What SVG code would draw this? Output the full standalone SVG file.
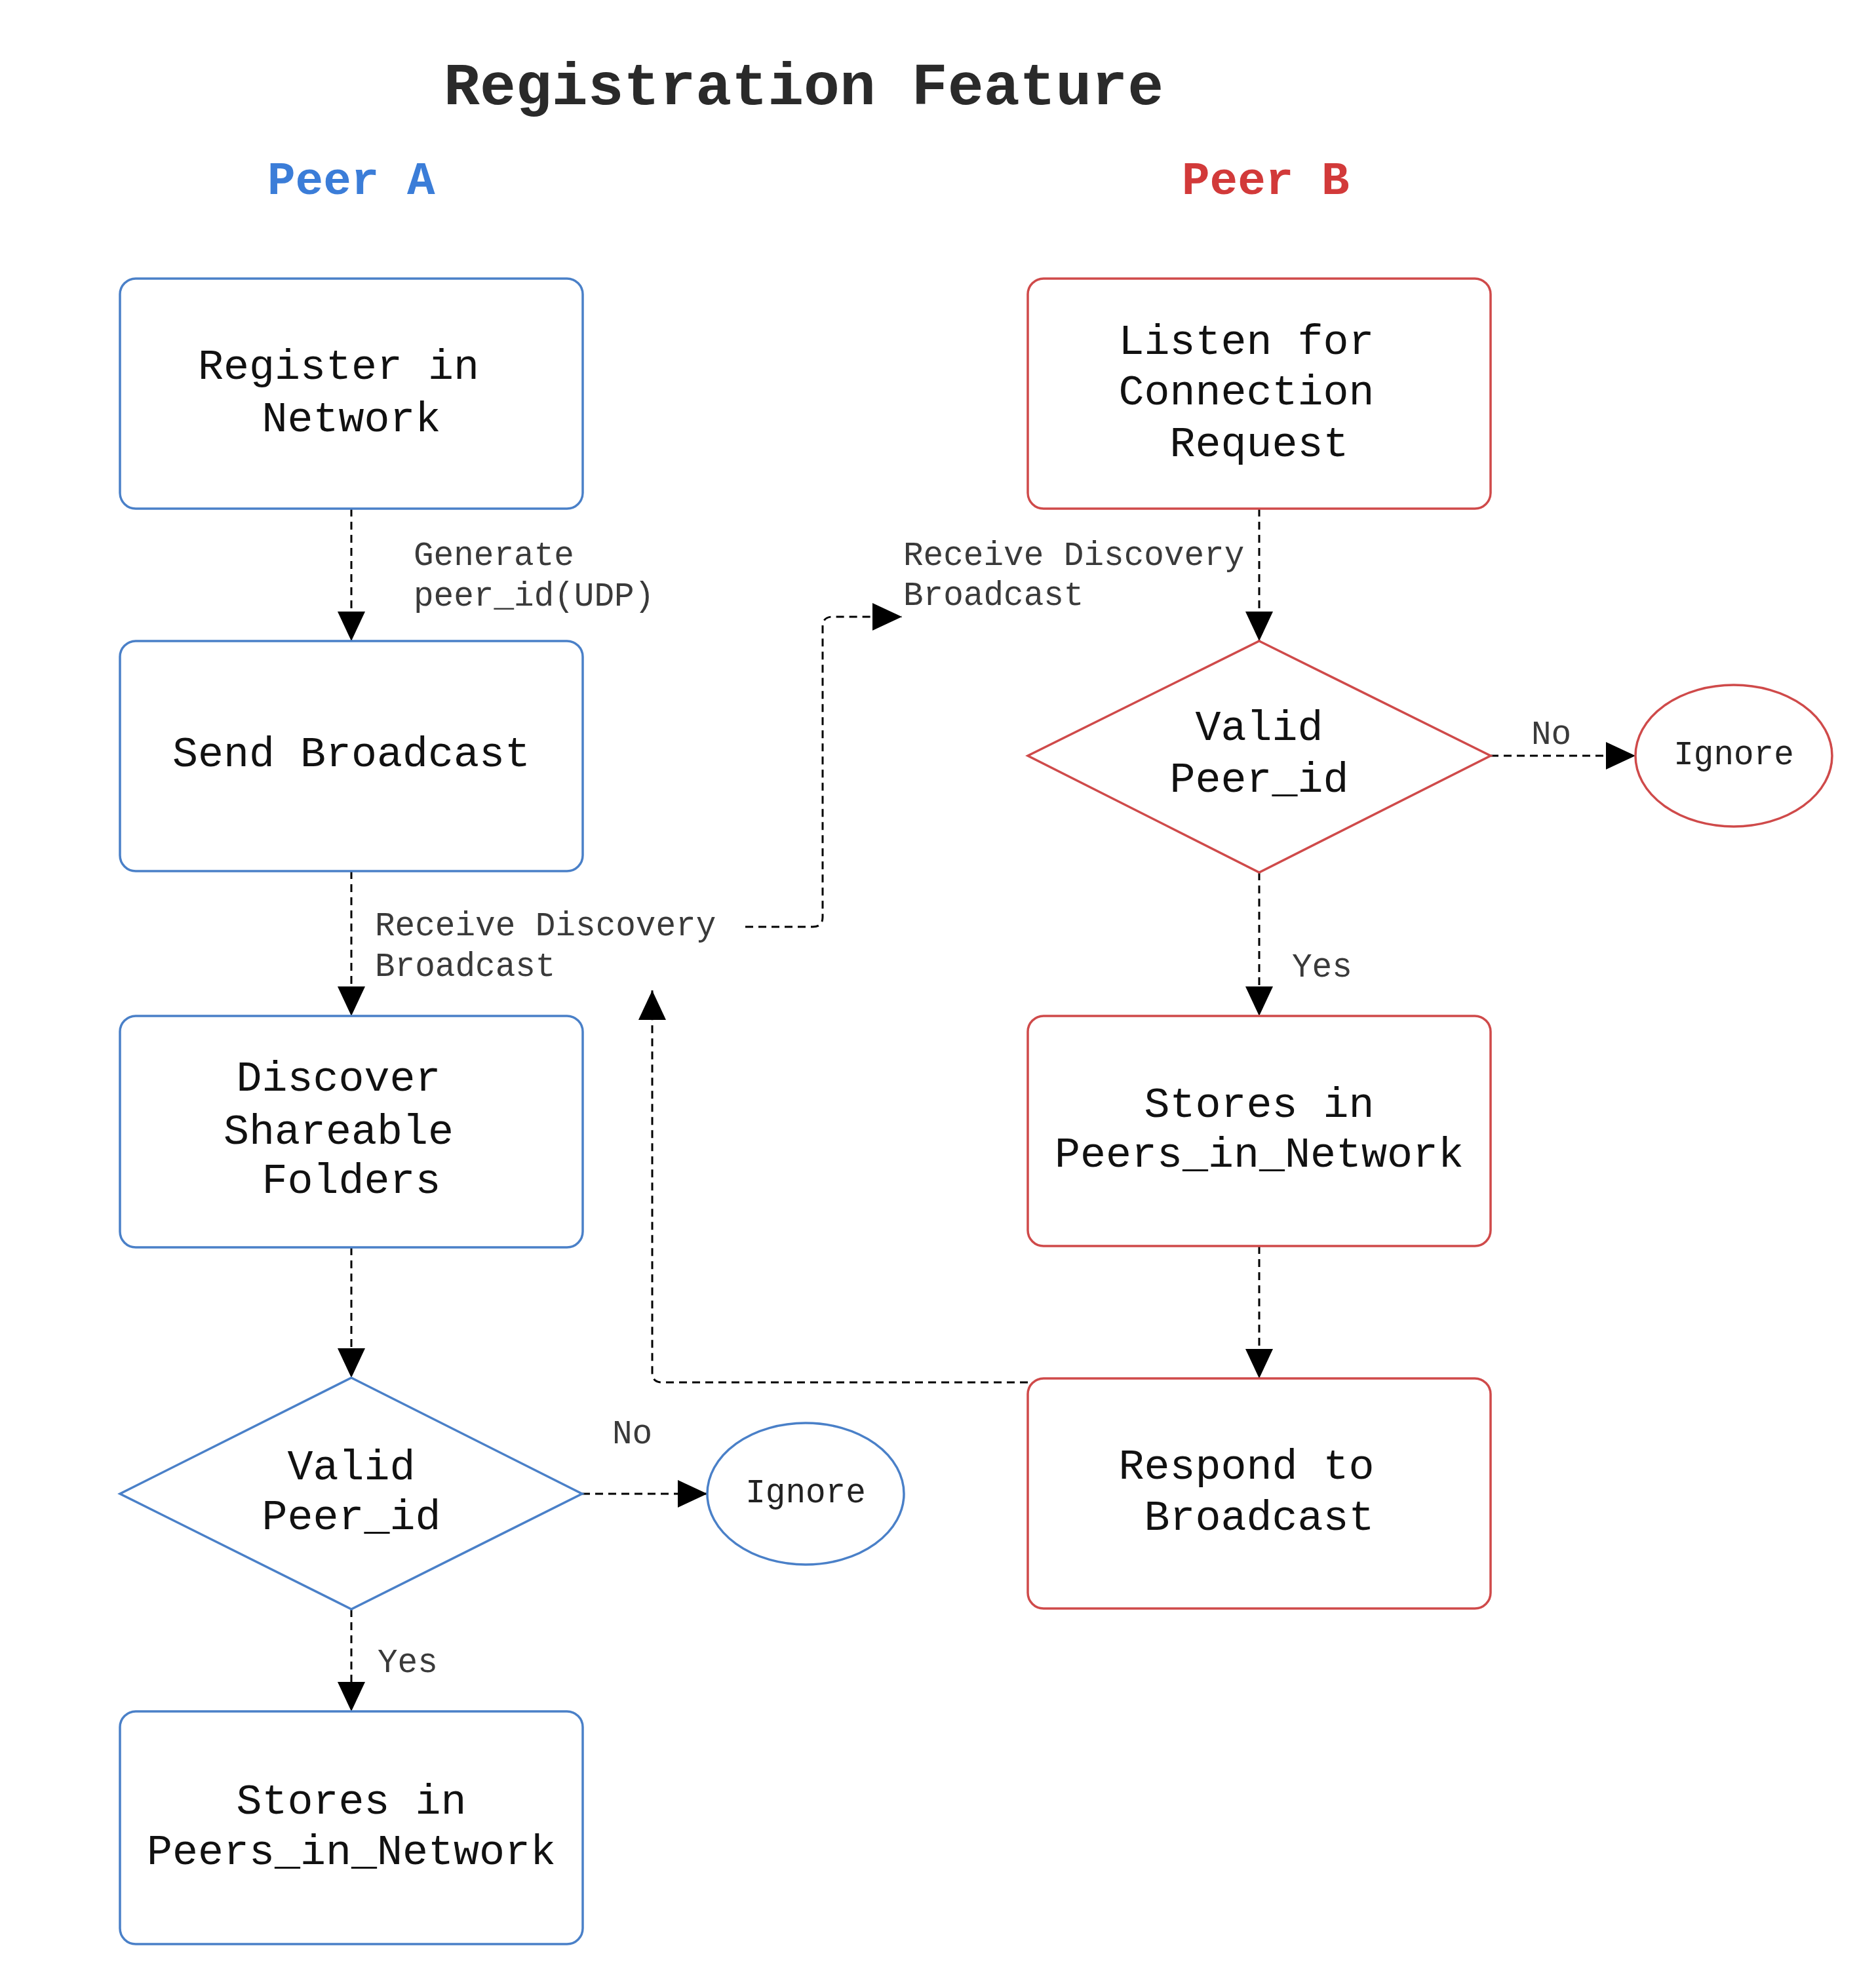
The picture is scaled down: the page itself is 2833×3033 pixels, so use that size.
<svg xmlns="http://www.w3.org/2000/svg" width="2833" height="3033" viewBox="0 0 2833 3033">
  <style>
    .blue { fill: #ffffff; stroke: #4a80c8; stroke-width: 3.5; }
    .red { fill: #ffffff; stroke: #cf4a4a; stroke-width: 3.5; }
    .nt { font-family: "Liberation Mono", "Courier New", monospace; font-size: 65px; fill: #111111; }
    .lbl { font-family: "Liberation Mono", "Courier New", monospace; font-size: 51px; fill: #3a3a3a; }
    .ign { font-family: "Liberation Mono", "Courier New", monospace; font-size: 51px; fill: #222222; text-anchor: middle; }
    .edge { fill: none; stroke: #000000; stroke-width: 3; stroke-dasharray: 12 8; }
    .title { font-family: "Liberation Mono", "Courier New", monospace; font-weight: bold; }
  </style>
  <defs>
    <marker id="arr" viewBox="0 0 45 42" refX="45" refY="21" markerWidth="45" markerHeight="42" markerUnits="userSpaceOnUse" orient="auto">
      <path d="M0,0 L45,21 L0,42 Z" fill="#000000"/>
    </marker>
  </defs>
  <rect width="2833" height="3033" fill="#ffffff"/>

  <g id="titles">
    <text class="title" x="677" y="159" font-size="91.5" fill="#2a2a2a">Registration Feature</text>
    <text class="title" x="408" y="296" font-size="71" fill="#3b7dd8">Peer A</text>
    <text class="title" x="1803" y="296" font-size="71" fill="#d23a3a">Peer B</text>
  </g>

  <g id="connectors">
    <path class="edge" d="M536,776 V978" marker-end="url(#arr)"/>
    <path class="edge" d="M536,1329 V1550" marker-end="url(#arr)"/>
    <path class="edge" d="M536,1903 V2102" marker-end="url(#arr)"/>
    <path class="edge" d="M536,2455 V2611" marker-end="url(#arr)"/>
    <path class="edge" d="M888,2279 H1079" marker-end="url(#arr)"/>
    <path class="edge" d="M1137,1414 H1240 Q1255,1414 1255,1399 V956 Q1255,941 1270,941 H1376" marker-end="url(#arr)"/>
    <path class="edge" d="M1921,776 V978" marker-end="url(#arr)"/>
    <path class="edge" d="M2274,1153 H2495" marker-end="url(#arr)"/>
    <path class="edge" d="M1921,1331 V1550" marker-end="url(#arr)"/>
    <path class="edge" d="M1921,1901 V2103" marker-end="url(#arr)"/>
    <path class="edge" d="M1568,2109 H1010 Q995,2109 995,2094 V1511" marker-end="url(#arr)"/>
    <text class="lbl" x="631" y="862">Generate</text>
    <text class="lbl" x="631" y="924">peer_id(UDP)</text>
    <text class="lbl" x="572" y="1427">Receive Discovery</text>
    <text class="lbl" x="572" y="1489">Broadcast</text>
    <text class="lbl" x="1378" y="862">Receive Discovery</text>
    <text class="lbl" x="1378" y="923">Broadcast</text>
    <text class="lbl" x="2336" y="1135">No</text>
    <text class="lbl" x="1971" y="1490">Yes</text>
    <text class="lbl" x="934" y="2202">No</text>
    <text class="lbl" x="576" y="2551">Yes</text>
  </g>

  <g id="register">
    <rect class="blue" x="183" y="425" width="706" height="351" rx="24"/>
    <text class="nt" x="302" y="578">Register in</text>
    <text class="nt" x="399.5" y="658">Network</text>
  </g>
  <g id="send">
    <rect class="blue" x="183" y="978" width="706" height="351" rx="24"/>
    <text class="nt" x="263" y="1169">Send Broadcast</text>
  </g>
  <g id="discover">
    <rect class="blue" x="183" y="1550" width="706" height="353" rx="24"/>
    <text class="nt" x="360.5" y="1664">Discover</text>
    <text class="nt" x="341" y="1745">Shareable</text>
    <text class="nt" x="399.5" y="1820">Folders</text>
  </g>
  <g id="validA">
    <polygon class="blue" points="536,2102 888,2279 536,2455 183,2279"/>
    <text class="nt" x="438.5" y="2257">Valid</text>
    <text class="nt" x="399.5" y="2333">Peer_id</text>
  </g>
  <g id="ignoreA">
    <ellipse class="blue" cx="1229" cy="2279" rx="150" ry="108"/>
    <text class="ign" x="1229" y="2292">Ignore</text>
  </g>
  <g id="storesA">
    <rect class="blue" x="183" y="2611" width="706" height="355" rx="24"/>
    <text class="nt" x="360.5" y="2767">Stores in</text>
    <text class="nt" x="224" y="2844">Peers_in_Network</text>
  </g>

  <g id="listen">
    <rect class="red" x="1568" y="425" width="706" height="351" rx="24"/>
    <text class="nt" x="1706.5" y="540">Listen for</text>
    <text class="nt" x="1706.5" y="617">Connection</text>
    <text class="nt" x="1784.5" y="696">Request</text>
  </g>
  <g id="validB">
    <polygon class="red" points="1921,978 2274,1153 1921,1331 1568,1153"/>
    <text class="nt" x="1823.5" y="1129">Valid</text>
    <text class="nt" x="1784.5" y="1208">Peer_id</text>
  </g>
  <g id="ignoreB">
    <ellipse class="red" cx="2645" cy="1153" rx="150" ry="108"/>
    <text class="ign" x="2645" y="1166">Ignore</text>
  </g>
  <g id="storesB">
    <rect class="red" x="1568" y="1550" width="706" height="351" rx="24"/>
    <text class="nt" x="1745.5" y="1704">Stores in</text>
    <text class="nt" x="1609" y="1780">Peers_in_Network</text>
  </g>
  <g id="respond">
    <rect class="red" x="1568" y="2103" width="706" height="351" rx="24"/>
    <text class="nt" x="1706.5" y="2256">Respond to</text>
    <text class="nt" x="1745.5" y="2334">Broadcast</text>
  </g>
</svg>
